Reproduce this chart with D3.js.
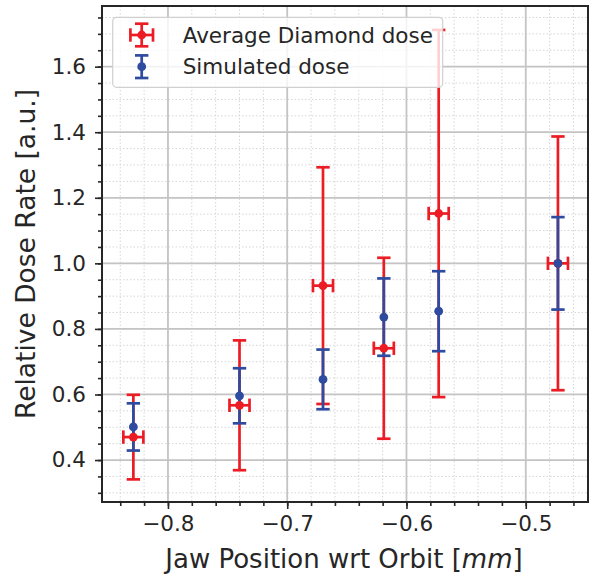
<!DOCTYPE html>
<html>
<head>
<meta charset="utf-8">
<script src="https://cdn.jsdelivr.net/npm/d3@7"></script>
<style>
  body { margin: 0; background: #fff; }
  svg { display: block; font-family: "DejaVu Sans", sans-serif; }
</style>
</head>
<body>
<div id="chart"></div>
<script>
// jaw positions (mm) for each measurement
const jawPos = [-0.829, -0.740, -0.670, -0.619, -0.573, -0.473];
const jawErr = [0.0084, 0.0084, 0.0084, 0.0084, 0.0084, 0.0084];

// average diamond dose and its error
const diamondDose = [0.470, 0.567, 0.932, 0.741, 1.152, 1.000];
const diamondErr = [0.129, 0.198, 0.361, 0.276, 0.560, 0.387];

// simulated dose and its error
const simDose = [0.501, 0.596, 0.646, 0.836, 0.854, 1.000];
const simErr = [0.072, 0.084, 0.091, 0.118, 0.122, 0.141];

const xMajor = [-0.8, -0.7, -0.6, -0.5];
const yMajor = [0.4, 0.6, 0.8, 1.0, 1.2, 1.4, 1.6];
const xMinor = d3.range(-84, -44, 2).map(d => d / 100);
const yMinor = d3.range(30, 180, 5).map(d => d / 100);

const seriesNames = ["Average Diamond dose", "Simulated dose"];
const red = "#ec1c24", blue = "#2f4b9f";

const W = 592, H = 576;
const margin = {top: 6, right: 4, bottom: 74, left: 102};
const width = W - margin.left - margin.right,
      height = H - margin.top - margin.bottom;

const svg = d3.select("#chart").append("svg")
    .attr("width", W).attr("height", H);

const x = d3.scaleLinear().domain([-0.8553, -0.4478]).range([margin.left, margin.left + width]);
const y = d3.scaleLinear().domain([0.272, 1.785]).range([margin.top + height, margin.top]);

// grid
const grid = svg.append("g");
grid.selectAll(".xm").data(xMinor).join("line")
    .attr("x1", d => x(d)).attr("x2", d => x(d))
    .attr("y1", margin.top).attr("y2", margin.top + height)
    .attr("stroke", "#d6d6d6").attr("stroke-width", 1).attr("stroke-dasharray", "1.5,2");
grid.selectAll(".ym").data(yMinor).join("line")
    .attr("y1", d => y(d)).attr("y2", d => y(d))
    .attr("x1", margin.left).attr("x2", margin.left + width)
    .attr("stroke", "#d6d6d6").attr("stroke-width", 1).attr("stroke-dasharray", "1.5,2");
grid.selectAll(".xM").data(xMajor).join("line")
    .attr("x1", d => x(d)).attr("x2", d => x(d))
    .attr("y1", margin.top).attr("y2", margin.top + height)
    .attr("stroke", "#c4c4c4").attr("stroke-width", 1.8);
grid.selectAll(".yM").data(yMajor).join("line")
    .attr("y1", d => y(d)).attr("y2", d => y(d))
    .attr("x1", margin.left).attr("x2", margin.left + width)
    .attr("stroke", "#c4c4c4").attr("stroke-width", 1.8);

// axes
const fmt = d => d3.format(".1f")(d).replace("-", "\u2212");
svg.append("g")
    .attr("transform", `translate(0,${margin.top + height})`)
    .call(d3.axisBottom(x).tickValues(xMajor).tickFormat(fmt).tickSize(7).tickPadding(7));
svg.append("g")
    .attr("transform", `translate(0,${margin.top + height})`)
    .call(d3.axisBottom(x).tickValues(xMinor).tickFormat("").tickSize(4))
    .call(g => g.select(".domain").remove());
svg.append("g")
    .attr("transform", `translate(${margin.left},0)`)
    .call(d3.axisLeft(y).tickValues(yMajor).tickFormat(d3.format(".1f")).tickSize(7).tickPadding(9));
svg.append("g")
    .attr("transform", `translate(${margin.left},0)`)
    .call(d3.axisLeft(y).tickValues(yMinor).tickFormat("").tickSize(4))
    .call(g => g.select(".domain").remove());

svg.selectAll(".tick line").attr("stroke", "#262626").attr("stroke-width", 1.6);
svg.selectAll(".tick text").attr("fill", "#262626").style("font-size", "21.5px")
    .style("font-family", "DejaVu Sans");
svg.selectAll(".domain").remove();

// frame
svg.append("rect")
    .attr("x", margin.left).attr("y", margin.top)
    .attr("width", width).attr("height", height)
    .attr("fill", "none").attr("stroke", "#262626").attr("stroke-width", 2);

// labels
const xl = svg.append("text")
    .attr("x", margin.left + width / 2 - 1).attr("y", 568)
    .attr("text-anchor", "middle").attr("fill", "#262626")
    .style("font-size", "26px");
xl.append("tspan").text("Jaw Position wrt Orbit [");
xl.append("tspan").attr("font-style", "italic").text("mm");
xl.append("tspan").text("]");

svg.append("text")
    .attr("transform", `translate(35,${margin.top + height / 2}) rotate(-90)`)
    .attr("text-anchor", "middle").attr("fill", "#262626")
    .style("font-size", "26.5px")
    .text("Relative Dose Rate [a.u.]");

// error bars
const capW = 6.7, lw = 2.7, mr = 4.4;
const idx = d3.range(jawPos.length);

function vbars(g, vals, errs, color) {
  g.selectAll(".v").data(idx).join("line")
    .attr("x1", i => x(jawPos[i])).attr("x2", i => x(jawPos[i]))
    .attr("y1", i => y(vals[i] - errs[i])).attr("y2", i => y(vals[i] + errs[i]))
    .attr("stroke", color).attr("stroke-width", lw);
  [-1, 1].forEach(s => {
    g.selectAll(".c" + (s + 1)).data(idx).join("line")
      .attr("x1", i => x(jawPos[i]) - capW).attr("x2", i => x(jawPos[i]) + capW)
      .attr("y1", i => y(vals[i] + s * errs[i])).attr("y2", i => y(vals[i] + s * errs[i]))
      .attr("stroke", color).attr("stroke-width", lw);
  });
}

const gRed = svg.append("g");
vbars(gRed, diamondDose, diamondErr, red);
gRed.selectAll(".h").data(idx).join("line")
  .attr("x1", i => x(jawPos[i] - jawErr[i])).attr("x2", i => x(jawPos[i] + jawErr[i]))
  .attr("y1", i => y(diamondDose[i])).attr("y2", i => y(diamondDose[i]))
  .attr("stroke", red).attr("stroke-width", lw);
[-1, 1].forEach(s => {
  gRed.selectAll(".hc" + (s + 1)).data(idx).join("line")
    .attr("x1", i => x(jawPos[i] + s * jawErr[i])).attr("x2", i => x(jawPos[i] + s * jawErr[i]))
    .attr("y1", i => y(diamondDose[i]) - capW).attr("y2", i => y(diamondDose[i]) + capW)
    .attr("stroke", red).attr("stroke-width", lw);
});

const gBlue = svg.append("g");
vbars(gBlue, simDose, simErr, blue);

// markers
svg.append("g").selectAll("circle").data(idx).join("circle")
  .attr("cx", i => x(jawPos[i])).attr("cy", i => y(diamondDose[i]))
  .attr("r", mr).attr("fill", red);
svg.append("g").selectAll("circle").data(idx).join("circle")
  .attr("cx", i => x(jawPos[i])).attr("cy", i => y(simDose[i]))
  .attr("r", mr).attr("fill", blue);

// legend
const lg = svg.append("g");
lg.append("rect")
  .attr("x", 112.7).attr("y", 17.3).attr("width", 330).attr("height", 70)
  .attr("rx", 4).attr("fill", "#fff").attr("fill-opacity", 0.8)
  .attr("stroke", "#d0d0d0").attr("stroke-width", 1.2);

const rows = [{name: seriesNames[0], color: red, cy: 35, xerr: true},
              {name: seriesNames[1], color: blue, cy: 66.7, xerr: false}];
rows.forEach(r => {
  const cx = 141.7, e = 11.3;
  const g = lg.append("g").attr("stroke", r.color).attr("stroke-width", lw);
  g.append("line").attr("x1", cx).attr("x2", cx).attr("y1", r.cy - e).attr("y2", r.cy + e);
  g.append("line").attr("x1", cx - capW).attr("x2", cx + capW).attr("y1", r.cy - e).attr("y2", r.cy - e);
  g.append("line").attr("x1", cx - capW).attr("x2", cx + capW).attr("y1", r.cy + e).attr("y2", r.cy + e);
  if (r.xerr) {
    g.append("line").attr("x1", cx - e).attr("x2", cx + e).attr("y1", r.cy).attr("y2", r.cy);
    g.append("line").attr("x1", cx - e).attr("x2", cx - e).attr("y1", r.cy - capW).attr("y2", r.cy + capW);
    g.append("line").attr("x1", cx + e).attr("x2", cx + e).attr("y1", r.cy - capW).attr("y2", r.cy + capW);
  }
  lg.append("circle").attr("cx", cx).attr("cy", r.cy).attr("r", mr).attr("fill", r.color);
  lg.append("text").attr("x", 182.7).attr("y", r.cy).attr("dy", "0.35em")
    .attr("fill", "#262626").style("font-size", "21.5px").text(r.name);
});
</script>
</body>
</html>
